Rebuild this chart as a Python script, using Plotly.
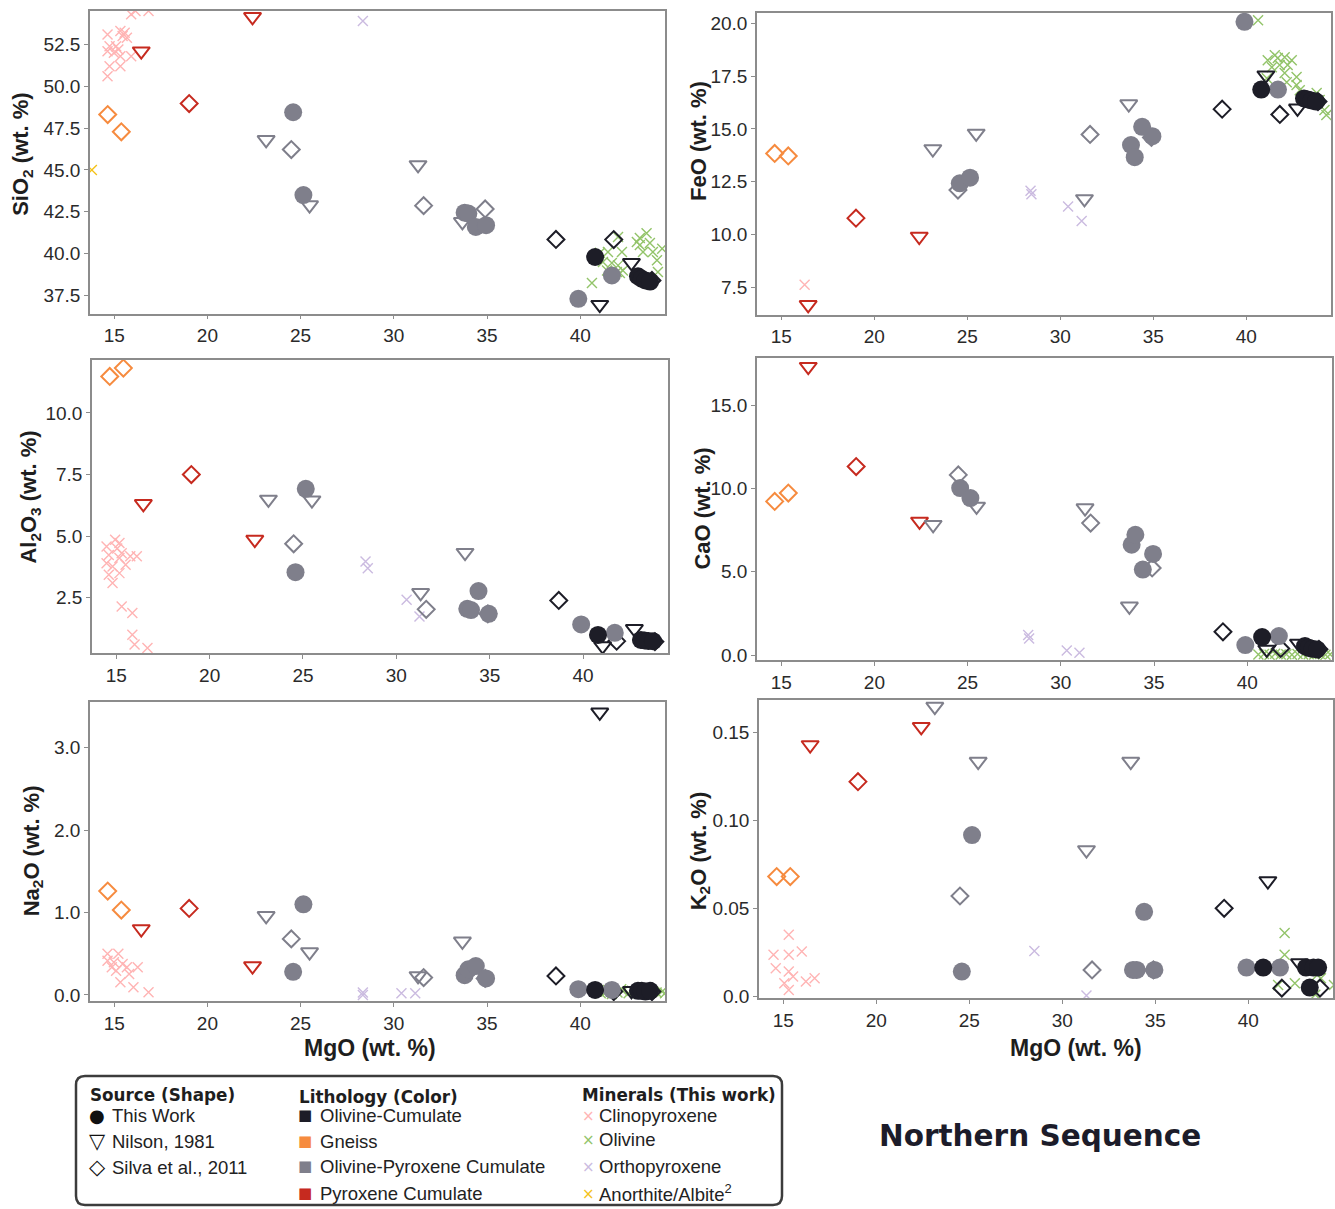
import plotly.graph_objects as go

W, H = 1335, 1209          # reference pixel frame
FIG_H = 1217               # figure height (rendered view is squeezed to 1209)
def px(x): return x / W
def py(y): return 1 - y / H

# ---------------- Whole-rock data (MgO vs oxides, wt. %) ----------------
# This Work – Olivine-Cumulate (filled circles, black)
TW_OC_MGO  = [40.8, 43.1, 43.3, 43.5, 43.75]
TW_OC_SIO2 = [39.8, 38.65, 38.5, 38.4, 38.33]
TW_OC_FEO  = [16.87, 16.45, 16.4, 16.35, 16.3]
TW_OC_AL2O3 = [0.99, 0.79, 0.77, 0.75, 0.74]
TW_OC_CAO  = [1.08, 0.54, 0.44, 0.38, 0.34]
TW_OC_NA2O = [0.06, 0.05, 0.05, 0.04, 0.05]
TW_OC_K2O  = [0.0164, 0.0164, 0.005, 0.0164, 0.0164]

# This Work – Olivine-Pyroxene Cumulate (filled circles, gray)
TW_OPC_MGO  = [24.6, 25.15, 33.8, 34.0, 34.4, 34.95, 39.9, 41.7]
TW_OPC_SIO2 = [48.45, 43.5, 42.45, 42.4, 41.6, 41.7, 37.3, 38.7]
TW_OPC_FEO  = [12.42, 12.69, 14.24, 13.66, 15.1, 14.66, 20.08, 16.87]
TW_OPC_AL2O3 = [3.54, 6.92, 2.05, 2.0, 2.77, 1.85, 1.42, 1.08]
TW_OPC_CAO  = [10.02, 9.42, 6.62, 7.22, 5.13, 6.07, 0.6, 1.14]
TW_OPC_NA2O = [0.28, 1.1, 0.24, 0.31, 0.35, 0.2, 0.07, 0.06]
TW_OPC_K2O  = [0.0141, 0.0916, 0.015, 0.015, 0.048, 0.015, 0.0164, 0.0164]

# Nilson, 1981 – Pyroxene Cumulate (open triangles, red)
NIL_PC_MGO  = [16.45, 22.42]
NIL_PC_SIO2 = [52.1, 54.15]
NIL_PC_FEO  = [6.66, 9.9]
NIL_PC_AL2O3 = [6.31, 4.86]
NIL_PC_CAO  = [17.3, 8.02]
NIL_PC_NA2O = [0.8, 0.35]
NIL_PC_K2O  = [0.1427, 0.153]

# Nilson, 1981 – Olivine-Pyroxene Cumulate (open triangles, gray)
NIL_OPC_MGO  = [23.15, 25.48, 31.3, 33.68]
NIL_OPC_SIO2 = [46.8, 42.9, 45.3, 41.9]
NIL_OPC_FEO  = [14.05, 14.79, 11.68, 16.18]
NIL_OPC_AL2O3 = [6.49, 6.46, 2.7, 4.33]
NIL_OPC_CAO  = [7.82, 8.92, 8.82, 2.93]
NIL_OPC_NA2O = [0.96, 0.52, 0.23, 0.65]
NIL_OPC_K2O  = [0.1645, 0.1333, 0.0831, 0.1333]

# Nilson, 1981 – Olivine-Cumulate (open triangles, black)
NIL_OC_MGO  = [41.05, 42.75]
NIL_OC_SIO2 = [36.95, 39.45]
NIL_OC_FEO  = [17.55, 15.98]
NIL_OC_AL2O3 = [0.54, 1.24]
NIL_OC_CAO  = [0.34, 0.7]
NIL_OC_NA2O = [3.43, 0.05]
NIL_OC_K2O  = [0.0655, 0.0189]

# Silva et al., 2011 – Gneiss (open diamonds, orange)
SIL_GN_MGO  = [14.65, 15.38]
SIL_GN_SIO2 = [48.31, 47.28]
SIL_GN_FEO  = [13.84, 13.72]
SIL_GN_AL2O3 = [11.48, 11.82]
SIL_GN_CAO  = [9.22, 9.72]
SIL_GN_NA2O = [1.26, 1.03]
SIL_GN_K2O  = [0.068, 0.068]

# Silva et al., 2011 – Pyroxene Cumulate (open diamonds, red)
SIL_PC_MGO  = [19.02]
SIL_PC_SIO2 = [48.97]
SIL_PC_FEO  = [10.77]
SIL_PC_AL2O3 = [7.5]
SIL_PC_CAO  = [11.31]
SIL_PC_NA2O = [1.05]
SIL_PC_K2O  = [0.1219]

# Silva et al., 2011 – Olivine-Pyroxene Cumulate (open diamonds, gray)
SIL_OPC_MGO  = [24.5, 31.6, 34.9]
SIL_OPC_SIO2 = [46.22, 42.87, 42.67]
SIL_OPC_FEO  = [12.1, 14.74, 14.6]
SIL_OPC_AL2O3 = [4.69, 2.03, 1.85]
SIL_OPC_CAO  = [10.81, 7.92, 5.23]
SIL_OPC_NA2O = [0.68, 0.21, 0.2]
SIL_OPC_K2O  = [0.057, 0.015, 0.015]

# Silva et al., 2011 – Olivine-Cumulate (open diamonds, black)
SIL_OC_MGO  = [38.7, 41.8, 43.85]
SIL_OC_SIO2 = [40.85, 40.84, 38.4]
SIL_OC_FEO  = [15.94, 15.69, 16.3]
SIL_OC_AL2O3 = [2.39, 0.74, 0.72]
SIL_OC_CAO  = [1.4, 0.4, 0.35]
SIL_OC_NA2O = [0.23, 0.04, 0.04]
SIL_OC_K2O  = [0.05, 0.0047, 0.0047]

# ---------------- Mineral analyses (This work), per panel ----------------
CPX_SIO2_MGO = [15.91, 16.14, 16.84, 14.64, 15.33, 15.56, 15.45, 15.68, 14.75, 15.1,
                14.64, 15.22, 14.98, 15.33, 15.91, 14.75, 15.33, 14.64]
CPX_SIO2     = [54.3, 54.5, 54.5, 53.1, 53.3, 53.2, 53.0, 52.9, 52.4, 52.4,
                52.1, 52.2, 52.0, 51.8, 51.8, 51.2, 51.2, 50.6]
CPX_FEO_MGO = [16.26]
CPX_FEO     = [7.61]
CPX_AL_MGO = [14.94, 15.17, 14.48, 15.05, 15.29, 14.6, 15.75, 16.1, 15.17, 14.48,
              15.5, 14.8, 15.17, 14.6, 14.8, 15.29, 15.86, 15.86, 15.98, 16.67]
CPX_AL2O3  = [4.85, 4.72, 4.58, 4.5, 4.31, 4.24, 4.18, 4.18, 4.11, 3.9,
              3.84, 3.77, 3.5, 3.43, 3.1, 2.15, 1.88, 1.0, 0.6, 0.46]
CPX_NA_MGO = [14.64, 15.22, 14.64, 14.98, 15.45, 14.87, 15.68, 16.26, 15.1, 15.8, 15.33, 16.03, 16.84]
CPX_NA2O   = [0.5, 0.5, 0.415, 0.396, 0.375, 0.335, 0.335, 0.335, 0.294, 0.254, 0.154, 0.093, 0.033]
CPX_K_MGO = [14.48, 15.3, 16.0, 15.3, 14.6, 15.3, 15.53, 15.06, 15.3, 16.22, 16.69]
CPX_K2O   = [0.0236, 0.0236, 0.0255, 0.035, 0.016, 0.0141, 0.0113, 0.0075, 0.0037, 0.0085, 0.0103]

OPX_SIO2_MGO = [28.34]
OPX_SIO2     = [53.9]
OPX_FEO_MGO = [28.4, 28.45, 30.42, 31.15]
OPX_FEO     = [12.07, 11.9, 11.32, 10.64]
OPX_AL_MGO = [28.35, 28.47, 30.55, 31.24]
OPX_AL2O3  = [3.97, 3.7, 2.42, 1.74]
OPX_CA_MGO = [28.25, 28.3, 30.32, 31.0]
OPX_CAO    = [1.2, 1.0, 0.28, 0.14]
OPX_NA_MGO = [28.34, 28.34, 30.41, 31.15]
OPX_NA2O   = [0.03, 0.0, 0.02, 0.02]
OPX_K_MGO = [28.5, 31.3]
OPX_K2O   = [0.0258, 0.0005]

OL_SIO2_MGO = [43.56, 43.2, 42.03, 43.74, 43.2, 43.04, 41.06, 41.49, 42.24, 43.37, 43.9,
               44.12, 41.22, 41.7, 42.03, 41.44, 41.97, 42.29, 44.17, 42.13, 40.63, 44.4]
OL_SIO2     = [41.22, 40.94, 41.0, 40.64, 40.52, 40.7, 40.05, 40.1, 40.1, 40.1, 40.1,
               39.6, 39.5, 39.44, 39.3, 39.0, 38.9, 39.0, 38.9, 38.85, 38.25, 40.3]
OL_FEO_MGO = [40.63, 41.15, 41.53, 41.69, 42.06, 42.44, 41.37, 41.79, 42.22, 42.06,
              42.7, 42.17, 42.7, 42.87, 43.78, 43.94, 44.2, 44.3, 41.1]
OL_FEO     = [20.16, 18.26, 18.5, 18.36, 18.4, 18.26, 17.93, 18.03, 18.03, 17.65,
              17.46, 17.22, 17.08, 16.84, 16.7, 16.37, 15.9, 15.66, 17.41]
OL_CA_MGO = [40.6, 40.9, 41.2, 41.5, 41.8, 42.1, 42.4, 42.7, 43.0, 43.3, 43.6, 43.9, 44.2, 44.45]
OL_CAO    = [0.03, 0.06, 0.02, 0.08, 0.04, 0.05, 0.02, 0.07, 0.03, 0.05, 0.04, 0.06, 0.02, 0.05]
OL_NA_MGO = [41.1, 41.4, 41.7, 42.0, 42.3, 42.6, 42.9, 43.2, 43.5, 43.8, 44.1, 44.4, 41.5, 42.2, 44.55]
OL_NA2O   = [0.02, 0.04, 0.01, 0.03, 0.05, 0.02, 0.04, 0.03, 0.02, 0.05, 0.03, 0.04, 0.06, 0.07, 0.02]
OL_K_MGO = [41.95, 41.95, 42.5, 41.6, 43.7, 43.6, 44.6, 43.9]
OL_K2O   = [0.036, 0.0236, 0.0075, 0.0065, 0.0122, 0.001, 0.0065, 0.0103]

AN_SIO2_MGO = [13.8]
AN_SIO2     = [45.0]

# ---------------- styles ----------------
C_OC = "#1d1d27"
C_GN = "#f68b3f"
C_OPC = "#7f7f8b"
C_PC = "#c62a1f"
C_CPX = "#ffb4b4"
C_OL = "#93c46a"
C_OPX = "#cbbbe0"
C_AN = "#f4c21a"

OXIDES = ["SIO2", "FEO", "AL2O3", "CAO", "NA2O", "K2O"]

bulk_groups = [
    ("SIL_GN", "diamond", C_GN), ("SIL_PC", "diamond", C_PC),
    ("SIL_OPC", "diamond", C_OPC), ("SIL_OC", "diamond", C_OC),
    ("NIL_PC", "triangle", C_PC), ("NIL_OPC", "triangle", C_OPC),
    ("NIL_OC", "triangle", C_OC),
    ("TW_OPC", "circle", C_OPC), ("TW_OC", "circle", C_OC),
]
G = globals()

minerals = {
    "SIO2": [(CPX_SIO2_MGO, CPX_SIO2, C_CPX), (OPX_SIO2_MGO, OPX_SIO2, C_OPX),
             (OL_SIO2_MGO, OL_SIO2, C_OL), (AN_SIO2_MGO, AN_SIO2, C_AN)],
    "FEO": [(CPX_FEO_MGO, CPX_FEO, C_CPX), (OPX_FEO_MGO, OPX_FEO, C_OPX),
            (OL_FEO_MGO, OL_FEO, C_OL)],
    "AL2O3": [(CPX_AL_MGO, CPX_AL2O3, C_CPX), (OPX_AL_MGO, OPX_AL2O3, C_OPX)],
    "CAO": [(OPX_CA_MGO, OPX_CAO, C_OPX), (OL_CA_MGO, OL_CAO, C_OL)],
    "NA2O": [(CPX_NA_MGO, CPX_NA2O, C_CPX), (OPX_NA_MGO, OPX_NA2O, C_OPX),
             (OL_NA_MGO, OL_NA2O, C_OL)],
    "K2O": [(CPX_K_MGO, CPX_K2O, C_CPX), (OPX_K_MGO, OPX_K2O, C_OPX),
            (OL_K_MGO, OL_K2O, C_OL)],
}

panels = {
    "SIO2": dict(fr=(90, 665, 11, 314), yr=[36.41, 54.5],
                 tv=[37.5, 40, 42.5, 45, 47.5, 50, 52.5], tt=None,
                 title="SiO<sub>2</sub> (wt. %)", tpos=(22, 155)),
    "FEO": dict(fr=(757, 1331, 13, 315), yr=[6.19, 20.5],
                tv=[7.5, 10, 12.5, 15, 17.5, 20], tt=None,
                title="FeO (wt. %)", tpos=(699, 141)),
    "AL2O3": dict(fr=(92, 668, 360, 654), yr=[0.24, 12.16],
                  tv=[2.5, 5, 7.5, 10], tt=None,
                  title="Al<sub>2</sub>O<sub>3</sub> (wt. %)", tpos=(30, 498)),
    "CAO": dict(fr=(757, 1332, 358, 661), yr=[-0.32, 17.84],
                tv=[0, 5, 10, 15], tt=None,
                title="CaO (wt. %)", tpos=(703, 509)),
    "NA2O": dict(fr=(90, 665, 703, 1002), yr=[-0.076, 3.55],
                 tv=[0, 1, 2, 3], tt=None,
                 title="Na<sub>2</sub>O (wt. %)", tpos=(33, 852)),
    "K2O": dict(fr=(759, 1333, 701, 999), yr=[-0.001, 0.168],
                tv=[0, 0.05, 0.10, 0.15], tt=["0.0", "0.05", "0.10", "0.15"],
                title="K<sub>2</sub>O (wt. %)", tpos=(700, 851)),
}

fig = go.Figure()
layout = dict(
    width=W, height=FIG_H, paper_bgcolor="white", plot_bgcolor="white",
    margin=dict(l=0, r=0, t=0, b=0), showlegend=False,
    font=dict(family="Liberation Sans, Arial, sans-serif", color="#2a2a2a"),
)
annotations = []
shapes = []

TICKFONT = dict(family="Liberation Sans, Arial, sans-serif", size=19, color="#2a2a2a")

for i, ox in enumerate(OXIDES, start=1):
    p = panels[ox]
    x0, x1, y0, y1 = p["fr"]
    xa = "x" if i == 1 else f"x{i}"
    ya = "y" if i == 1 else f"y{i}"
    common = dict(showgrid=False, zeroline=False, showline=True, mirror=True,
                  linecolor="#8c8c8c", linewidth=1.5, ticks="outside", ticklen=4,
                  tickcolor="#8c8c8c", tickwidth=1, tickfont=TICKFONT)
    layout["xaxis" if i == 1 else f"xaxis{i}"] = dict(
        domain=[px(x0), px(x1)], range=[13.7, 44.55], anchor=ya,
        tickvals=[15, 20, 25, 30, 35, 40], **common)
    yax = dict(domain=[py(y1), py(y0)], range=p["yr"], anchor=xa,
               tickvals=p["tv"], **common)
    if p["tt"]:
        yax["ticktext"] = p["tt"]
    else:
        yax["tickformat"] = ".1f"
    layout["yaxis" if i == 1 else f"yaxis{i}"] = yax

    for mx, my, col in minerals[ox]:
        fig.add_trace(go.Scatter(
            x=mx, y=my, mode="markers", xaxis=xa, yaxis=ya, hoverinfo="skip",
            marker=dict(symbol="x-thin-open", size=10, color=col,
                        line=dict(width=1.4, color=col))))
    for pre, sym, col in bulk_groups:
        xs = G[pre + "_MGO"]
        ys = G[pre + "_" + ox]
        if sym == "circle":
            mk = dict(symbol="circle", size=18, color=col, line=dict(width=0))
        elif sym == "triangle":
            mk = dict(symbol="triangle-down-open", size=15, color=col,
                      line=dict(width=2, color=col))
        else:
            mk = dict(symbol="diamond-open", size=13, color=col,
                      line=dict(width=2, color=col))
        fig.add_trace(go.Scatter(x=xs, y=ys, mode="markers", xaxis=xa, yaxis=ya,
                                 marker=mk, hoverinfo="x+y"))

    tx, ty = p["tpos"]
    annotations.append(dict(
        text=f"<b>{p['title']}</b>", x=px(tx), y=py(ty), xref="paper", yref="paper",
        textangle=-90, showarrow=False, xanchor="center", yanchor="middle",
        font=dict(family="Liberation Sans, Arial, sans-serif", size=22, color="#1e1e1e")))

for cx in (370, 1076):
    annotations.append(dict(
        text="<b>MgO (wt. %)</b>", x=px(cx), y=py(1049), xref="paper", yref="paper",
        showarrow=False, xanchor="center", yanchor="middle",
        font=dict(family="Liberation Sans, Arial, sans-serif", size=23, color="#1e1e1e")))

# ---------------- custom legend ----------------
bx0, bx1, by0, by1 = 76, 782, 1077, 1206
r = 9
rx, ry = r / W, r / H
path = (f"M {px(bx0)+rx},{py(by0)} L {px(bx1)-rx},{py(by0)} "
        f"Q {px(bx1)},{py(by0)} {px(bx1)},{py(by0)-ry} "
        f"L {px(bx1)},{py(by1)+ry} Q {px(bx1)},{py(by1)} {px(bx1)-rx},{py(by1)} "
        f"L {px(bx0)+rx},{py(by1)} Q {px(bx0)},{py(by1)} {px(bx0)},{py(by1)+ry} "
        f"L {px(bx0)},{py(by0)-ry} Q {px(bx0)},{py(by0)} {px(bx0)+rx},{py(by0)} Z")
shapes.append(dict(type="path", path=path, xref="paper", yref="paper",
                   line=dict(color="#3c3c3c", width=2.5), fillcolor="rgba(0,0,0,0)"))

HEADF = dict(family="DejaVu Sans, Verdana, sans-serif", size=16.8, color="#1e1e1e")
ITEMF = dict(family="Liberation Sans, Arial, sans-serif", size=18.5, color="#222222")

def ann(text, x, y, font, xanchor="left"):
    annotations.append(dict(text=text, x=px(x), y=py(y), xref="paper", yref="paper",
                            showarrow=False, xanchor=xanchor, yanchor="middle", font=font))

ann("<b>Source (Shape)</b>", 88, 1096, HEADF)
ann("<b>Lithology (Color)</b>", 297, 1098, HEADF)
ann("<b>Minerals (This work)</b>", 580, 1096, HEADF)

src_items = [("●", "This Work", 1116, 18), ("▽", "Nilson, 1981", 1142, 21),
             ("◇", "Silva et al., 2011", 1168, 21)]
for sym, lab, yy, fs in src_items:
    ann(sym, 97, yy, dict(family="DejaVu Sans, sans-serif", size=fs, color="#111111"), "center")
    ann(lab, 110, yy, ITEMF)

lith_items = [("Olivine-Cumulate", C_OC, 1116), ("Gneiss", C_GN, 1142),
              ("Olivine-Pyroxene Cumulate", C_OPC, 1167), ("Pyroxene Cumulate", C_PC, 1194)]
for lab, col, yy in lith_items:
    ann("■", 305, yy, dict(family="DejaVu Sans, sans-serif", size=15, color=col), "center")
    ann(lab, 318, yy, ITEMF)

min_items = [("Clinopyroxene", C_CPX, 1116), ("Olivine", C_OL, 1140),
             ("Orthopyroxene", C_OPX, 1167), ("Anorthite/Albite<sup>2</sup>", C_AN, 1194)]
for lab, col, yy in min_items:
    ann("×", 588, yy + 1, dict(family="DejaVu Sans, sans-serif", size=15, color=col), "center")
    ann(lab, 597, yy, ITEMF)

ann("<b>Northern Sequence</b>", 1040, 1137,
    dict(family="DejaVu Sans, Verdana, sans-serif", size=29.5, color="#1c1c2a"), "center")

layout["annotations"] = annotations
layout["shapes"] = shapes
fig.update_layout(**layout)

POST = ("document.documentElement.style.margin='0';document.body.style.margin='0';"
        "document.documentElement.style.overflow='hidden';document.body.style.overflow='hidden';")
fig.write_html("out.html", post_script=POST, config={"displayModeBar": False})
